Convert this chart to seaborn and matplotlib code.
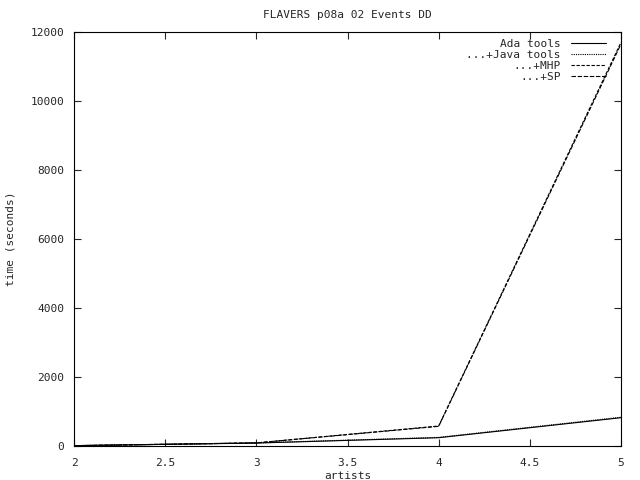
import matplotlib
matplotlib.use("Agg")
import matplotlib.pyplot as plt
import seaborn as sns
import pandas as pd

artists = [2, 3, 4, 5]
ada_tools = [10, 85, 240, 820]
java_tools = [10, 90, 250, 835]
mhp = [10, 90, 580, 11700]
sp = [10, 90, 570, 11650]

labels = ["Ada tools", "...+Java tools", "...+MHP", "...+SP"]
series = [ada_tools, java_tools, mhp, sp]

rows = []
for lab, vals in zip(labels, series):
    for a, t in zip(artists, vals):
        rows.append({"artists": a, "time": t, "config": lab})
df = pd.DataFrame(rows)

sns.set_style("ticks")
plt.rcParams["font.family"] = ["DejaVu Sans Mono"]
plt.rcParams["font.size"] = 8

fig = plt.figure(figsize=(6.4, 4.8), dpi=100)
ax = fig.add_axes([74 / 640, 34 / 480, 547 / 640, 414 / 480])

dashes = {
    "Ada tools": "",
    "...+Java tools": (1, 1),
    "...+MHP": (3, 1.5),
    "...+SP": (4, 1.5),
}
sns.lineplot(data=df, x="artists", y="time", hue="config", style="config",
             palette=["black"] * 4, dashes=dashes, linewidth=0.8, ax=ax)

ax.set_xlim(2, 5)
ax.set_ylim(0, 12000)
ax.set_xticks([2, 2.5, 3, 3.5, 4, 4.5, 5])
ax.set_xticklabels(["2", "2.5", "3", "3.5", "4", "4.5", "5"])
ax.set_yticks(range(0, 12001, 2000))
ax.tick_params(direction="in", top=True, right=True, length=5, width=0.8,
               labelsize=8)
ax.tick_params(axis="x", pad=9)
ax.tick_params(axis="y", pad=7)
for s in ax.spines.values():
    s.set_linewidth(0.8)
    s.set_color("black")

ax.set_xlabel("artists", fontsize=8, labelpad=2)
ax.set_ylabel("time (seconds)", fontsize=8, labelpad=11)
ax.set_title("FLAVERS p08a 02 Events DD", fontsize=8, pad=10)

ax.legend(loc="upper right", bbox_to_anchor=(0.985, 1.0), frameon=False,
          markerfirst=False, fontsize=8, handlelength=3.2, labelspacing=0.1,
          borderaxespad=0.2, handletextpad=0.9)

fig.savefig("out.png", dpi=100)
